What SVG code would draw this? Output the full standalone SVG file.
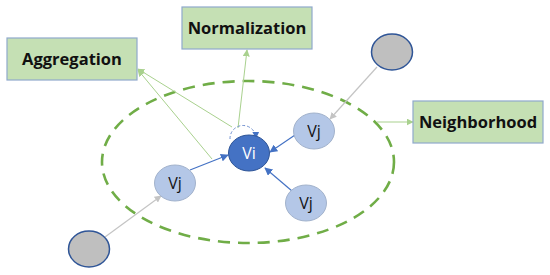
<svg xmlns="http://www.w3.org/2000/svg" width="550" height="275" viewBox="0 0 550 275">
<style>
.box{fill:#C5E0B4;stroke:#8FA9CC;stroke-width:1.2}
.lbl{font-family:"Open Sans","Liberation Sans",sans-serif;font-weight:bold;font-size:16.5px;fill:#111;text-anchor:middle}
.vj{fill:#B4C7E7;stroke:#A3B3CC;stroke-width:1}
.vt{font-family:"Open Sans","Liberation Sans",sans-serif;font-size:16px;text-anchor:middle}
.gray{fill:#BFBFBF;stroke:#2F5597;stroke-width:1.5}
.g{stroke:#A9D18E;stroke-width:1;fill:none}
.b{stroke:#4472C4;stroke-width:1.2;fill:none}
.gr{stroke:#C4C4C4;stroke-width:1.2;fill:none}
</style>
<defs>
<marker id="ag" viewBox="0 0 10 10" refX="9" refY="5" markerWidth="7" markerHeight="7" orient="auto" markerUnits="userSpaceOnUse"><path d="M0,0L10,5L0,10z" fill="#A9D18E"/></marker>
<marker id="ab" viewBox="0 0 10 10" refX="9" refY="5" markerWidth="8" markerHeight="8" orient="auto" markerUnits="userSpaceOnUse"><path d="M0,0L10,5L0,10z" fill="#4472C4"/></marker>
<marker id="agr" viewBox="0 0 10 10" refX="9" refY="5" markerWidth="7" markerHeight="7" orient="auto" markerUnits="userSpaceOnUse"><path d="M0,0L10,5L0,10z" fill="#C4C4C4"/></marker>
<marker id="al" viewBox="0 0 10 10" refX="9" refY="5" markerWidth="7" markerHeight="7" orient="auto" markerUnits="userSpaceOnUse"><path d="M0,0L10,5L0,10z" fill="#4472C4"/></marker>
</defs>
<ellipse id="neighborhood-region" cx="248" cy="162" rx="146" ry="81" fill="none" stroke="#70AD47" stroke-width="2.6" stroke-dasharray="12 8"/>
<g id="connectors">
<line class="g" x1="232" y1="127" x2="138" y2="69" marker-end="url(#ag)"/>
<line class="g" x1="212" y1="159" x2="138" y2="70" marker-end="url(#ag)"/>
<line class="g" x1="238" y1="128" x2="247" y2="50" marker-end="url(#ag)"/>
<line class="g" x1="377" y1="122" x2="413" y2="122" marker-end="url(#ag)"/>
<line class="gr" x1="377" y1="67" x2="330" y2="119" marker-end="url(#agr)"/>
<line class="gr" x1="105" y1="237" x2="161" y2="196" marker-end="url(#agr)"/>
<line class="b" x1="190" y1="170" x2="228" y2="155" marker-end="url(#ab)"/>
<line class="b" x1="295" y1="135" x2="270" y2="152" marker-end="url(#ab)"/>
<line class="b" x1="292" y1="191" x2="265" y2="168" marker-end="url(#ab)"/>
<path d="M230,139 A13,13 0 1 1 256,138" fill="none" stroke="#6F8FCF" stroke-width="1" stroke-dasharray="3 2" marker-end="url(#al)"/>
</g>
<g id="aggregation"><rect class="box" x="7" y="38" width="130" height="42"/><text class="lbl" x="72" y="65">Aggregation</text></g>
<g id="normalization"><rect class="box" x="182" y="7" width="130" height="42"/><text class="lbl" x="247" y="34">Normalization</text></g>
<g id="neighborhood"><rect class="box" x="413" y="101" width="130" height="42"/><text class="lbl" x="478" y="128">Neighborhood</text></g>
<g id="gray-top"><ellipse class="gray" cx="392" cy="52" rx="20.5" ry="18"/></g>
<g id="gray-bottom"><ellipse class="gray" cx="89" cy="249" rx="20.5" ry="18"/></g>
<g id="vi"><ellipse cx="249" cy="153" rx="20.5" ry="18" fill="#4472C4" stroke="#2F5597" stroke-width="1"/><text class="vt" x="249" y="159" fill="#fff">Vi</text></g>
<g id="vj-left"><ellipse class="vj" cx="175" cy="183" rx="20.5" ry="18"/><text class="vt" x="175" y="189" fill="#111">Vj</text></g>
<g id="vj-top"><ellipse class="vj" cx="314" cy="131" rx="20.5" ry="18"/><text class="vt" x="314" y="137" fill="#111">Vj</text></g>
<g id="vj-bottom"><ellipse class="vj" cx="306" cy="203" rx="20.5" ry="18"/><text class="vt" x="306" y="209" fill="#111">Vj</text></g>
</svg>
